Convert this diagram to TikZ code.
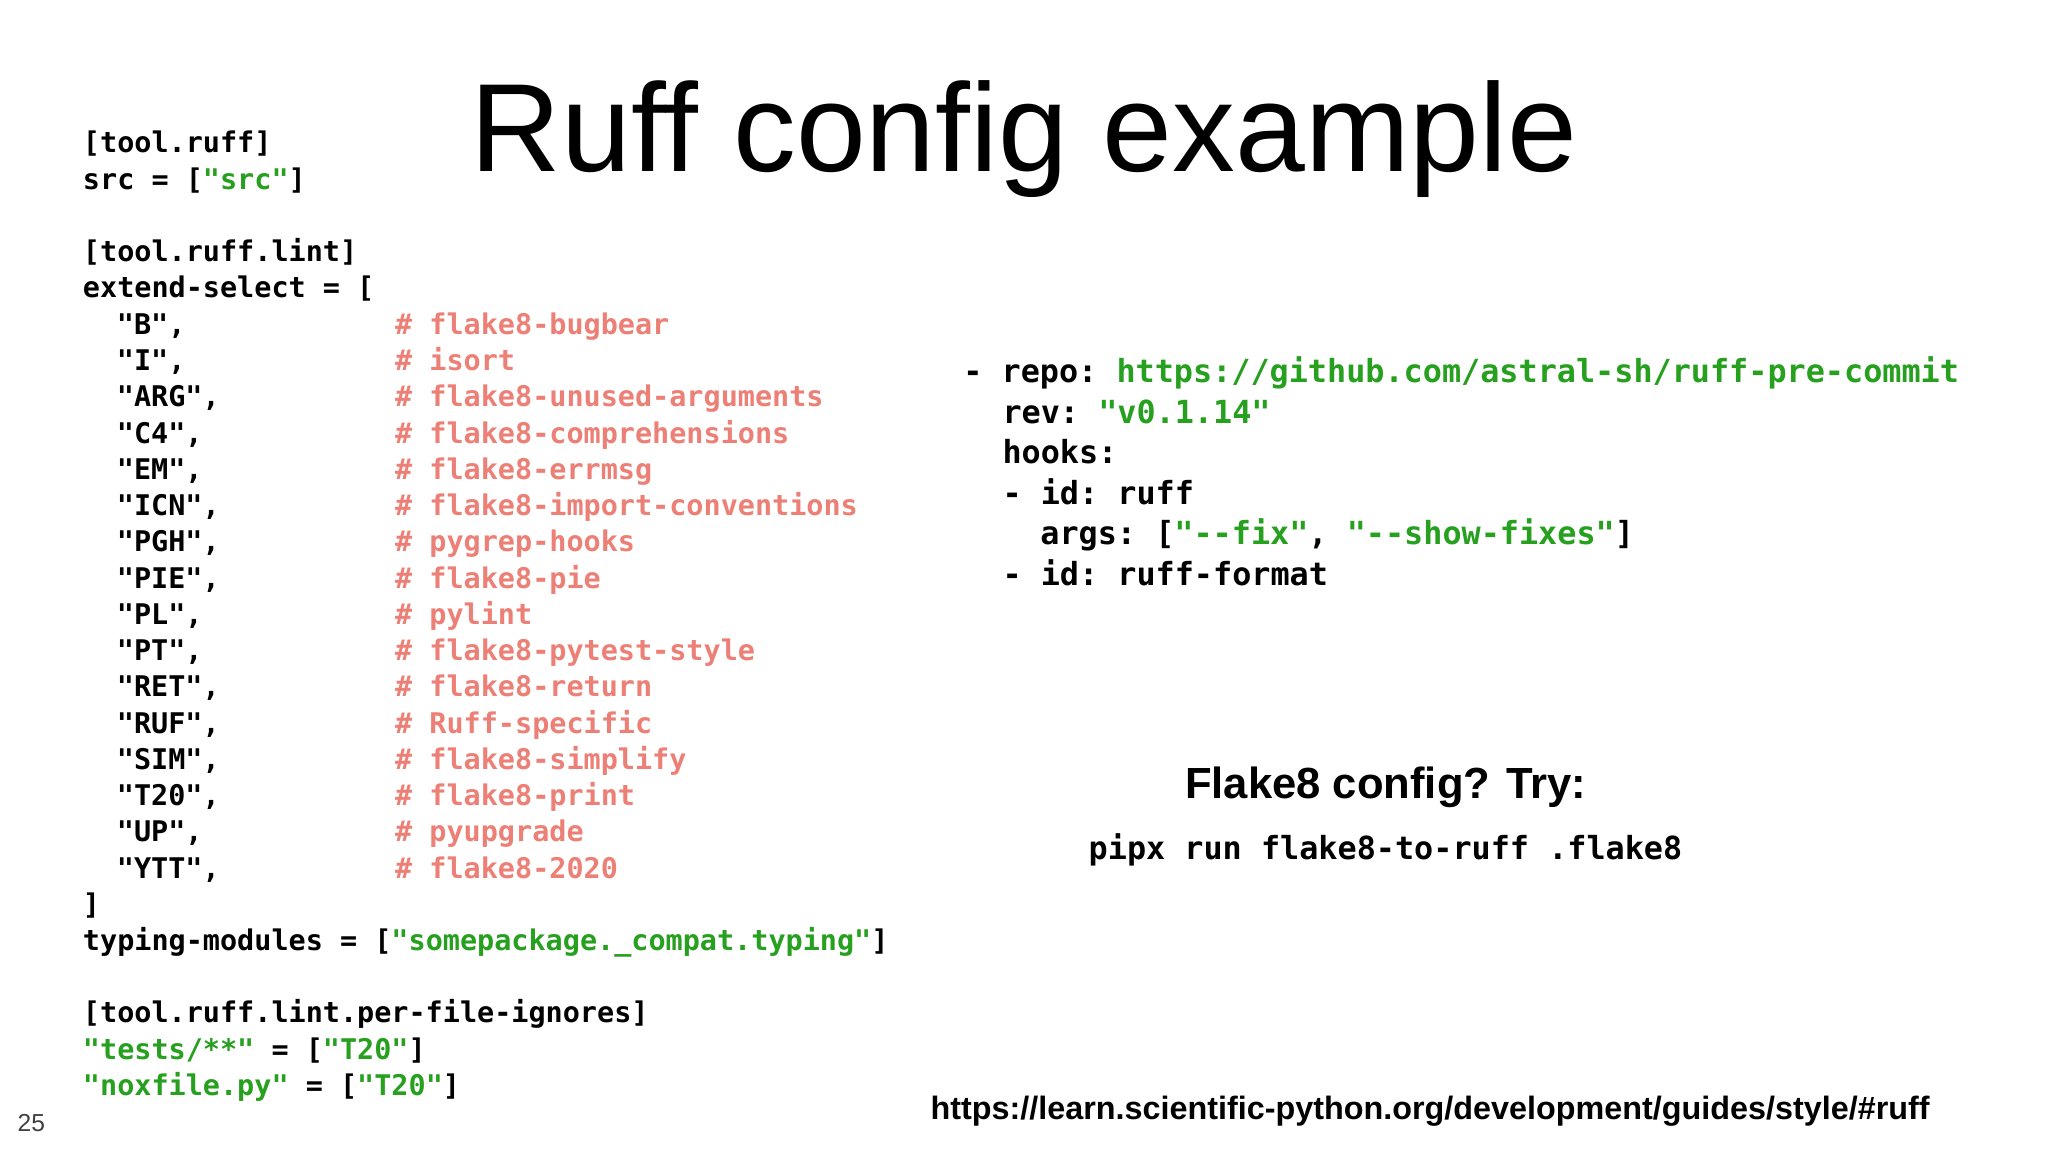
\documentclass[tikz,border=0pt]{standalone}
\usepackage{fontspec}
\setmainfont{Liberation Sans}
\setmonofont{DejaVu Sans Mono}
\definecolor{gr}{RGB}{38,160,30}
\definecolor{cm}{RGB}{236,128,118}
\newcommand{\g}[1]{\textcolor{gr}{#1}}
\tikzset{
 cl/.style={anchor=base west,inner sep=0pt,font=\fontsize{8.1pt}{9pt}\ttfamily\bfseries},
 cr/.style={anchor=base west,inner sep=0pt,font=\fontsize{9.05pt}{10pt}\ttfamily\bfseries},
 cc/.style={cl,text=cm}
}
\begin{document}
\begin{tikzpicture}[x=0.013061cm,y=-0.013061cm]
\useasboundingbox (0,0) rectangle (1568,882);
\node[anchor=base,inner sep=0pt,font=\fontsize{35.7pt}{40pt}\selectfont] (title) at (784,131) {Ruff config example};
\def\L{63}\def\C{302}
\node[cl] (l0) at (\L,117) {[tool.ruff]};
\node[cl] (l1) at (\L,145) {src = [\g{"src"}]};
\node[cl] (l3) at (\L,200) {[tool.ruff.lint]};
\node[cl] (l4) at (\L,228) {extend-select = [};
\foreach \c/\t [count=\i from 0] in {"B"/flake8-bugbear,"I"/isort,"ARG"/flake8-unused-arguments,"C4"/flake8-comprehensions,"EM"/flake8-errmsg,"ICN"/flake8-import-conventions,"PGH"/pygrep-hooks,"PIE"/flake8-pie,"PL"/pylint,"PT"/flake8-pytest-style,"RET"/flake8-return,"RUF"/Ruff-specific,"SIM"/flake8-simplify,"T20"/flake8-print,"UP"/pyupgrade,"YTT"/flake8-2020}{
  \node[cl] (it\i) at (89,{256+27.75*\i}) {\c,};
  \node[cc] (co\i) at (\C,{256+27.75*\i}) {\# \t};
}
\node[cl] (l21) at (\L,700) {]};
\node[cl] (l22) at (\L,728) {typing-modules = [\g{"somepackage.\_compat.typing"}]};
\node[cl] (l24) at (\L,783) {[tool.ruff.lint.per-file-ignores]};
\node[cl] (l25) at (\L,811) {\g{"tests/**"} = [\g{"T20"}]};
\node[cl] (l26) at (\L,839) {\g{"noxfile.py"} = [\g{"T20"}]};
% right
\node[cr] (r0) at (737,293) {- repo: \g{https://github.com/astral-sh/ruff-pre-commit}};
\node[cr] (r1) at (767,324) {rev: \g{"v0.1.14"}};
\node[cr] (r2) at (767,355) {hooks:};
\node[cr] (r3) at (767,386) {- id: ruff};
\node[cr] (r4) at (796,417) {args: [\g{"--fix"}, \g{"--show-fixes"}]};
\node[cr] (r5) at (767,448) {- id: ruff-format};
\node[anchor=base,inner sep=0pt,font=\fontsize{12.4pt}{14pt}\bfseries] (fl) at (1061,611) {Flake8 config? Try:};
\node[cr] (px) at (833,658) {pipx run flake8-to-ruff .flake8};
\node[anchor=base west,inner sep=0pt,font=\fontsize{9.2pt}{11pt}\bfseries] (url) at (712,857) {https://learn.scientific-python.org/development/guides/style/\#ruff};
\node[anchor=base west,inner sep=0pt,font=\fontsize{7pt}{8pt}\selectfont,text=black!75] (pg) at (13,866) {25};
\end{tikzpicture}
\end{document}
